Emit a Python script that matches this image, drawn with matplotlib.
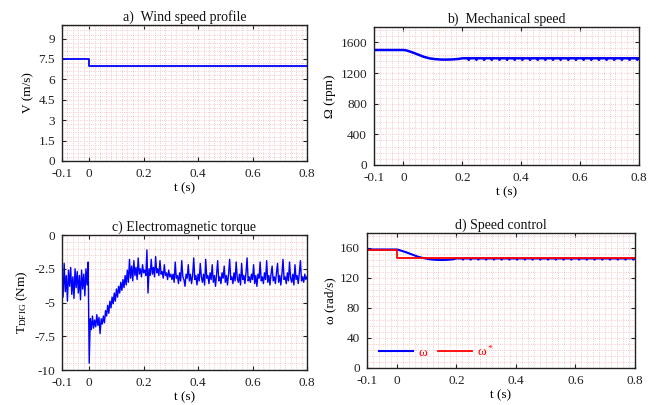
import numpy as np
import matplotlib
matplotlib.use("Agg")
import matplotlib.pyplot as plt
from matplotlib.ticker import MultipleLocator, AutoMinorLocator

plt.rcParams['font.family'] = ['Liberation Serif', 'DejaVu Serif']
plt.rcParams['font.size'] = 9.5
plt.rcParams['axes.unicode_minus'] = False
plt.rcParams['mathtext.default'] = 'regular'

# a) wind speed profile
wind_t = [-0.1, 0.0, 0.0, 0.8]
wind_v = [7.5, 7.5, 7.0, 7.0]

# b) mechanical speed (rpm)
mech_t = [-0.1, 0.0, 0.01, 0.03, 0.05, 0.07, 0.09, 0.11, 0.13, 0.15, 0.17, 0.19, 0.2]
mech_rpm = [1500, 1500, 1495, 1470, 1440, 1410, 1390, 1380, 1375, 1375, 1378, 1385, 1392]
mech_steady = 1392
mech_dip = 1372
dip_times = [0.222, 0.248, 0.274, 0.300, 0.326, 0.352, 0.378, 0.404, 0.430, 0.456,
             0.482, 0.508, 0.534, 0.560, 0.586, 0.612, 0.638, 0.664, 0.690, 0.716,
             0.742, 0.768, 0.794]

# c) electromagnetic torque (Nm), sampled every 4 ms from -0.1 s to 0.8 s
torque = [
    -3.2, -4.6, -2.1, -4.2, -3.0, -4.9, -2.6, -3.8, -2.4, -4.4, -3.1, -4.7, -2.5,
    -3.9, -2.7, -4.3, -3.0, -4.8, -2.6, -4.0, -2.9, -4.5, -2.5, -3.7, -2.0,
    -9.5, -6.2, -7.0, -6.0, -6.9, -6.3, -6.8, -5.9, -6.7, -6.1, -7.3, -6.2, -6.6,
    -6.0, -6.5, -5.6, -6.0, -5.2, -5.8, -4.9, -5.4, -4.6, -5.1, -4.3, -4.9, -4.0,
    -4.6, -3.8, -4.3, -3.5, -4.1, -3.3, -3.9, -3.0, -3.7, -2.6, -3.5, -1.8,
    -3.2, -2.3, -3.4, -1.9, -3.0, -2.4, -3.3, -1.7, -2.9, -2.5, -3.1, -2.2, -2.8,
    -2.6, -3.0, -1.1, -4.3, -2.5, -3.0, -1.8, -2.9, -2.4, -3.1, -1.6, -2.8, -2.5,
    -3.0, -1.9, -2.9, -2.7, -3.2, -2.2, -3.0, -2.8, -3.3, -2.6, -3.1, -2.9,
    -3.3, -2.9, -3.5, -2.0, -3.2, -3.0, -3.6, -2.8, -3.4, -1.9, -3.1, -3.3, -3.8,
    -2.9, -3.2, -2.2, -3.4, -2.9, -3.6, -3.0, -1.7, -3.3, -3.0, -3.7, -2.9,
    -3.4, -2.1, -3.1, -3.5, -2.9, -3.7, -1.8, -3.2, -3.0, -3.6, -2.8, -3.3, -2.2,
    -3.5, -3.0, -3.8, -2.9, -1.9, -3.4, -3.1, -3.6, -2.8, -3.2, -2.3, -3.5,
    -3.0, -3.7, -2.9, -1.8, -3.3, -3.1, -3.6, -2.8, -3.4, -2.0, -3.2, -3.5, -2.9,
    -3.7, -2.1, -3.3, -3.0, -3.6, -2.8, -1.7, -3.4, -3.1, -3.5, -2.9, -3.3,
    -2.2, -3.6, -3.0, -3.8, -2.9, -3.2, -2.0, -3.4, -3.1, -3.6, -2.8, -3.3, -1.9,
    -3.5, -3.0, -3.7, -2.9, -2.3, -3.4, -3.1, -3.6, -2.8, -2.1, -3.5, -3.0,
    -3.7, -2.9, -1.8, -3.3, -3.1, -3.6, -2.8, -3.4, -2.0, -3.2, -3.5, -2.9, -3.7,
    -2.2, -3.3, -3.0, -3.6, -2.8, -1.9, -3.4, -3.1, -3.5, -2.9, -3.3, -3.1,
]
torque_t = np.linspace(-0.1, 0.8, len(torque))

# d) speed control (rad/s)
w_t = [-0.1, 0.0, 0.01, 0.03, 0.05, 0.07, 0.09, 0.11, 0.13, 0.15, 0.17, 0.19, 0.2]
w = [158.0, 158.0, 157.0, 154.5, 151.5, 148.5, 146.5, 145.0, 144.2, 144.0, 144.2, 145.0, 146.0]
w_steady = 146.0
w_dip = 144.5
w_ref_t = [-0.1, 0.0, 0.0, 0.8]
w_ref = [157.0, 157.0, 146.6, 146.6]

xticks = [-0.1, 0, 0.2, 0.4, 0.6, 0.8]
xticklabels = ['-0.1', '0', '0.2', '0.4', '0.6', '0.8']


def with_dips(t, v, steady, dip):
    tt, vv = list(t), list(v)
    for d in dip_times:
        tt += [d - 0.003, d, d + 0.003]
        vv += [steady, dip, steady]
    tt.append(0.8)
    vv.append(steady)
    return tt, vv


def style(ax, yticks, ylim, title, ylabel):
    ax.set_xlim(-0.1, 0.8)
    ax.set_ylim(*ylim)
    ax.set_xticks(xticks)
    ax.set_xticklabels(xticklabels)
    ax.set_yticks(yticks)
    ax.xaxis.set_minor_locator(MultipleLocator(0.02))
    ax.yaxis.set_minor_locator(AutoMinorLocator(5))
    ax.grid(which='both', color='#f4b8b8', linestyle=':', linewidth=0.6)
    ax.tick_params(which='major', direction='in', top=True, right=True, length=3,
                   pad=5, colors='#222222', labelcolor='#222222')
    ax.tick_params(which='minor', length=0)
    for s in ax.spines.values():
        s.set_color('#222222')
        s.set_linewidth(1.0)
    ax.set_title(title, fontsize=10, pad=3, color='#111111')
    ax.set_xlabel('t (s)', labelpad=2)
    ax.set_ylabel(ylabel, labelpad=3)
    ax.set_axisbelow(True)


fig = plt.figure(figsize=(6.58, 4.05), dpi=100)

ax1 = fig.add_axes([0.0942, 0.6025, 0.3723, 0.3358])
ax1.plot(wind_t, wind_v, color='#0000ff', lw=1.3)
style(ax1, [0, 1.5, 3, 4.5, 6, 7.5, 9], (0, 10), 'a)  Wind speed profile', 'V (m/s)')
ax1.set_yticklabels(['0', '1.5', '3', '4.5', '6', '7.5', '9'])

ax2 = fig.add_axes([0.5684, 0.5926, 0.4027, 0.3407])
mt, mv = with_dips(mech_t, mech_rpm, mech_steady, mech_dip)
ax2.plot(mt, mv, color='#0000ff', lw=1.8)
style(ax2, [0, 400, 800, 1200, 1600], (0, 1800), 'b)  Mechanical speed', 'Ω (rpm)')

ax3 = fig.add_axes([0.0942, 0.0864, 0.3723, 0.3333])
ax3.plot(torque_t, torque, color='#0000ff', lw=1.0)
style(ax3, [-10, -7.5, -5, -2.5, 0], (-10, 0), 'c) Electromagnetic torque', 'T$_{DFIG}$ (Nm)')
ax3.set_yticklabels(['-10', '-7.5', '-5', '-2.5', '0'])

ax4 = fig.add_axes([0.5578, 0.0914, 0.4073, 0.3333])
wt, wv = with_dips(w_t, w, w_steady, w_dip)
ax4.plot(wt, wv, color='#0000ff', lw=1.5, label='ω')
ax4.plot(w_ref_t, w_ref, color='#ff0000', lw=1.3, label='ω$^*$')
style(ax4, [0, 40, 80, 120, 160], (0, 180), 'd) Speed control', 'ω (rad/s)')
leg = ax4.legend(loc='lower left', bbox_to_anchor=(0.0, -0.02), ncol=2, frameon=False,
                 handlelength=2.6, columnspacing=0.8, handletextpad=0.4, fontsize=9.5)
for txt in leg.get_texts():
    txt.set_color('#ff0000')

fig.savefig('out.png', dpi=100)
